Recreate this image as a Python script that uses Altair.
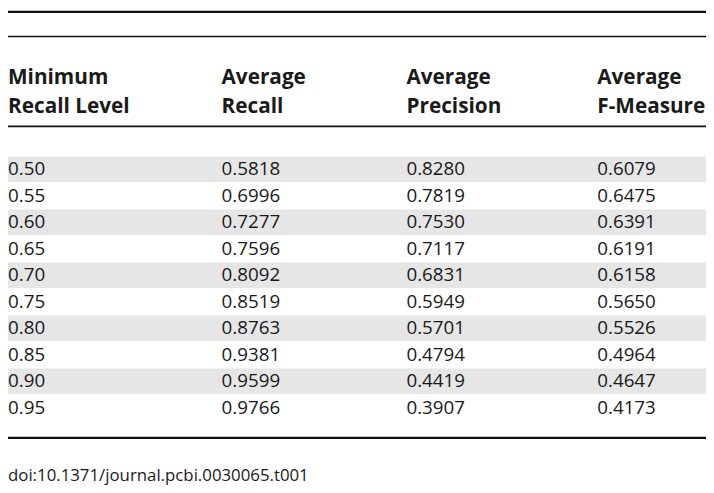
import altair as alt
import pandas as pd

# ---- table content ----
min_recall = ["0.50", "0.55", "0.60", "0.65", "0.70", "0.75", "0.80", "0.85", "0.90", "0.95"]
avg_recall = ["0.5818", "0.6996", "0.7277", "0.7596", "0.8092", "0.8519", "0.8763", "0.9381", "0.9599", "0.9766"]
avg_precision = ["0.8280", "0.7819", "0.7530", "0.7117", "0.6831", "0.5949", "0.5701", "0.4794", "0.4419", "0.3907"]
avg_fmeasure = ["0.6079", "0.6475", "0.6391", "0.6191", "0.6158", "0.5650", "0.5526", "0.4964", "0.4647", "0.4173"]
header_line1 = ["Minimum", "Average", "Average", "Average"]
header_line2 = ["Recall Level", "Recall", "Precision", "F-Measure"]
footnote = "doi:10.1371/journal.pcbi.0030065.t001"

# ---- layout (pixels) ----
W, H = 706, 485
col_x = [0, 216, 403, 596]
FONT = "Open Sans"
FS = 19
HFS = 21
TXT = "#1a1a1a"
SHADE = "#e6e6e6"

df = pd.DataFrame({
    "row": list(range(len(min_recall))),
    "c0": min_recall, "c1": avg_recall, "c2": avg_precision, "c3": avg_fmeasure,
})
df["shaded"] = df["row"] % 2 == 0
df["y0"] = df["row"] - 0.48
df["y1"] = df["row"] + 0.48

yscale = alt.Scale(domain=[-0.5, 9.5], range=[147, 415])
base = alt.Chart(df)

bands = base.transform_filter("datum.shaded").mark_rect(color=SHADE).encode(
    x=alt.value(0), x2=alt.value(W),
    y=alt.Y("y0:Q", scale=yscale, axis=None), y2="y1:Q",
)

layers = [bands]
for i, cx in enumerate(col_x):
    layers.append(
        base.mark_text(align="left", baseline="middle", font=FONT, fontSize=FS, color=TXT).encode(
            x=alt.value(cx),
            y=alt.Y("row:Q", scale=yscale, axis=None),
            text=alt.Text(f"c{i}:N"),
        )
    )

hdf = pd.DataFrame({"l1": header_line1, "l2": header_line2})
for i, cx in enumerate(col_x):
    sub = alt.Chart(hdf.iloc[[i]])
    layers.append(sub.mark_text(align="left", baseline="middle", font=FONT, fontSize=HFS,
                                fontWeight="bold", color=TXT).encode(
        x=alt.value(cx), y=alt.value(68), text="l1:N"))
    layers.append(sub.mark_text(align="left", baseline="middle", font=FONT, fontSize=HFS,
                                fontWeight="bold", color=TXT).encode(
        x=alt.value(cx), y=alt.value(97), text="l2:N"))

def rule(y, w):
    return alt.Chart(pd.DataFrame({"a": [0]})).mark_rule(color="#111111", strokeWidth=w).encode(
        x=alt.value(0), x2=alt.value(W), y=alt.value(y))

layers += [rule(1.2, 2.4), rule(26, 1.4), rule(117, 1.8), rule(432, 2.4)]

layers.append(
    alt.Chart(pd.DataFrame({"t": [footnote]})).mark_text(
        align="left", baseline="middle", font=FONT, fontSize=17, color=TXT
    ).encode(x=alt.value(0), y=alt.value(471), text="t:N")
)

chart = alt.layer(*layers).properties(
    width=W, height=H,
    autosize=alt.AutoSizeParams(type="none"),
    padding=0,
    background="white",
).configure_view(stroke=None)

chart.save("out.html", embed_options={"renderer": "svg", "actions": False})
